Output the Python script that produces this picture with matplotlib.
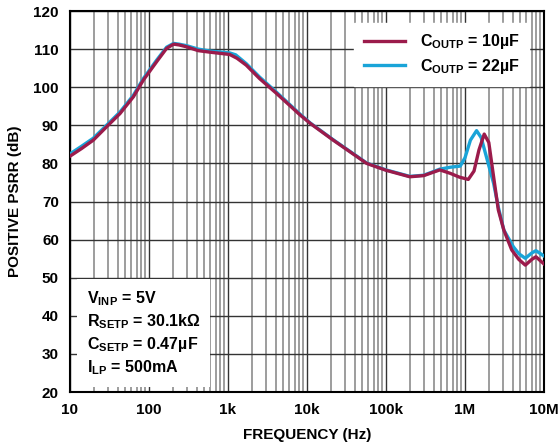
import matplotlib.pyplot as plt
from matplotlib.ticker import FixedLocator, LogLocator, NullFormatter

plt.rcParams['font.family'] = 'Liberation Sans'
plt.rcParams['font.weight'] = 'bold'
plt.rcParams['mathtext.fontset'] = 'custom'
plt.rcParams['mathtext.rm'] = 'Liberation Sans:bold'
plt.rcParams['mathtext.it'] = 'Liberation Sans:bold'
plt.rcParams['mathtext.bf'] = 'Liberation Sans:bold'

RED = '#9b1b4b'
BLUE = '#19a4d8'

# Data
freq_10u = [10, 14, 19.7, 29, 43, 63.5, 85, 125, 167, 205, 240, 300, 420, 590, 1050,
            1300, 1700, 2500, 4100, 8200, 11000, 21500, 57000, 100000, 200000,
            300000, 480000, 650000, 850000, 1.1e6, 1.3e6, 1.5e6, 1.75e6, 2.0e6,
            2.3e6, 2.64e6, 3.1e6, 3.9e6, 4.8e6, 5.8e6, 7.0e6, 7.9e6, 10e6]
psrr_10u = [81.9, 83.9, 86.1, 89.6, 93.1, 97.5, 101.9, 106.7, 110.2, 111.3, 111.1,
            110.6, 109.6, 109.2, 108.6, 107.6, 105.8, 102.3, 98.4, 92.7, 90.5,
            86.1, 80.0, 78.2, 76.5, 76.8, 78.3, 77.4, 76.4, 75.8, 78.0, 83.5,
            87.7, 85.5, 76.5, 67.8, 62.5, 57.3, 54.8, 53.3, 54.8, 55.5, 53.6]

freq_22u = [10, 14, 19.7, 29, 43, 63.5, 85, 125, 167, 205, 240, 300, 420, 590, 1050,
            1250, 1700, 2500, 4100, 8200, 11000, 21500, 57000, 100000, 200000,
            300000, 480000, 650000, 870000, 1.0e6, 1.17e6, 1.4e6, 1.6e6, 1.85e6,
            2.3e6, 2.64e6, 3.1e6, 4.1e6, 4.8e6, 5.8e6, 7.0e6, 7.9e6, 10e6]
psrr_22u = [82.5, 84.5, 86.6, 90.0, 93.5, 97.9, 102.3, 107.1, 110.5, 111.5, 111.3,
            110.9, 110.0, 109.5, 109.0, 108.5, 106.2, 102.7, 98.7, 92.9, 90.6,
            86.2, 80.1, 78.3, 76.6, 76.9, 78.5, 79.0, 79.3, 81.5, 86.1, 88.6,
            86.8, 82.0, 74.8, 68.5, 62.5, 58.1, 56.3, 55.1, 56.5, 57.1, 55.7]

xticks = [10, 100, 1e3, 1e4, 1e5, 1e6, 1e7]
xtick_labels = ['10', '100', '1k', '10k', '100k', '1M', '10M']
yticks = list(range(20, 121, 10))

fig = plt.figure(figsize=(5.59, 4.46), dpi=100)
ax = fig.add_axes([0.1252, 0.121, 0.8480, 0.8543])

ax.semilogx(freq_22u, psrr_22u, color=BLUE, lw=2.4, label=r'C$_{\rm OUTP}$ = 22µF', zorder=3)
ax.semilogx(freq_10u, psrr_10u, color=RED, lw=2.4, label=r'C$_{\rm OUTP}$ = 10µF', zorder=4)

ax.set_xlim(10, 1e7)
ax.set_ylim(20, 120)
ax.xaxis.set_major_locator(FixedLocator(xticks))
ax.set_xticklabels(xtick_labels)
ax.xaxis.set_minor_locator(LogLocator(base=10, subs=range(2, 10), numticks=20))
ax.xaxis.set_minor_formatter(NullFormatter())
ax.set_yticks(yticks)
ax.tick_params(axis='both', which='both', length=0, labelsize=11, pad=8)
ax.grid(True, which='major', color='#333333', lw=1.0)
ax.grid(True, which='minor', axis='x', color='#8c8c8c', lw=1.2)
for s in ax.spines.values():
    s.set_linewidth(1.5)

ax.set_xlabel('FREQUENCY (Hz)', fontsize=11, fontweight='bold', labelpad=8)
ax.set_ylabel('POSITIVE PSRR (dB)', fontsize=11, fontweight='bold', labelpad=8)

handles, labels = ax.get_legend_handles_labels()
leg = ax.legend(handles[::-1], labels[::-1], loc='upper right', fontsize=11.5,
                frameon=True, fancybox=False, framealpha=1, edgecolor='white',
                bbox_to_anchor=(0.985, 0.99), handlelength=2.6, labelspacing=0.35,
                borderpad=0.6, handletextpad=0.9)
leg.set_zorder(5)

ax.text(0.035, 0.04,
        'V$_{\\rm INP}$ = 5V\nR$_{\\rm SETP}$ = 30.1kΩ\nC$_{\\rm SETP}$ = 0.47µF\nI$_{\\rm LP}$ = 500mA',
        transform=ax.transAxes, fontsize=11.5, fontweight='bold', linespacing=1.3,
        va='bottom', ha='left', zorder=5,
        bbox=dict(facecolor='white', edgecolor='none', pad=7))

fig.savefig('out.png', dpi=100)
